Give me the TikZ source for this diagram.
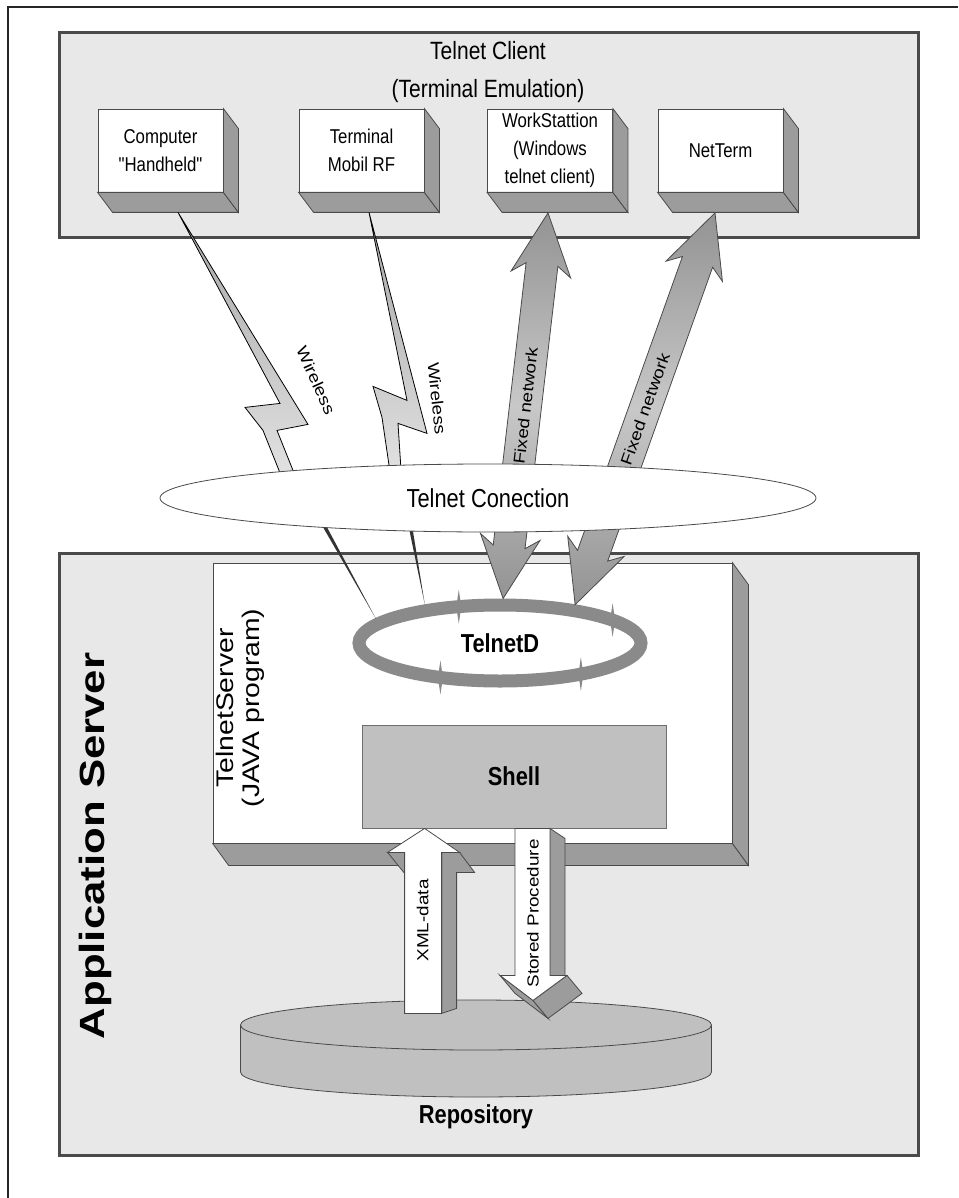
\documentclass[tikz,border=0pt]{standalone}
\usepackage{fontspec}
\setmainfont{Liberation Sans}
\newfontfamily\narrowfont{Liberation Sans}[FakeStretch=0.84]
\newfontfamily\tallfont{Liberation Sans}[FakeStretch=1.18]
\newfontfamily\widefont{Liberation Sans}[FakeStretch=1.25]
\usepackage{tikz}
\usetikzlibrary{calc}
\usetikzlibrary{shapes.geometric}
\definecolor{panelgray}{HTML}{E8E8E8}
\definecolor{edgegray}{HTML}{4A4A4A}
\definecolor{sidegray}{HTML}{9C9C9C}
\definecolor{shellgray}{HTML}{C0C0C0}
\definecolor{ringgray}{HTML}{8A8A8A}
\definecolor{arrowdark}{HTML}{939393}
\definecolor{arrowlight}{HTML}{C8C8C8}
\definecolor{boltdark}{HTML}{A6A6A6}
\definecolor{boltlight}{HTML}{E4E4E4}
\tikzset{
  panel/.style={draw=edgegray, line width=1.5pt, fill=panelgray, minimum width=429.5pt, inner sep=0},
  clientbox/.style={draw=edgegray, fill=white, minimum width=62.5pt, minimum height=41.5pt,
    inner sep=0, align=center, font=\narrowfont\fontsize{10}{14}\selectfont},
  sideface/.style={fill=sidegray, draw=edgegray, line width=0.4pt},
  bolt/.style={draw=black, line width=0.4pt, top color=boltdark, bottom color=boltlight},
  netarrow/.style={draw=edgegray, line width=0.4pt, top color=arrowdark, bottom color=arrowdark, middle color=arrowlight},
  smalllabel/.style={font=\tallfont\fontsize{8}{9}\selectfont, inner sep=0},
  boldlabel/.style={font=\narrowfont\bfseries\fontsize{13}{15}\selectfont, inner sep=0}
}
% double headed block arrow from #1 (top tip) to #2 (bottom tip)
\newcommand{\fixednet}[2]{%
  \draw[netarrow] (#1)
    -- ($(#1)!31pt!(#2)!15pt!90:(#2)$) -- ($(#1)!26pt!(#2)!8pt!90:(#2)$)
    -- ($(#2)!26pt!(#1)!8pt!-90:(#1)$) -- ($(#2)!31pt!(#1)!15pt!-90:(#1)$)
    -- (#2)
    -- ($(#2)!31pt!(#1)!15pt!90:(#1)$) -- ($(#2)!26pt!(#1)!8pt!90:(#1)$)
    -- ($(#1)!26pt!(#2)!8pt!-90:(#2)$) -- ($(#1)!31pt!(#2)!15pt!-90:(#2)$)
    -- cycle;}

\begin{document}
\begin{tikzpicture}[x=0.5pt,y=-0.5pt]
\useasboundingbox (0,0) rectangle (958,1198);
\fill[white] (0,0) rectangle (958,1198);
\draw[line width=1pt, black!85] (8,1198) -- (8,7) -- (958,7);

% telnet client side
\node[panel, minimum height=102.5pt] (clientpanel) at (488.5,135.5) {};
\node[align=center, font=\narrowfont\fontsize{12.5}{19}\selectfont] (clienttitle) at (488,72)
  {Telnet Client\\(Terminal Emulation)};
\foreach \nm/\cx/\txt in {handheld/160.5/{Computer\\"Handheld"}, mobilrf/361.5/{Terminal\\Mobil RF},
    workst/550/{WorkStattion\\(Windows\\telnet client)}, netterm/720.5/{NetTerm}} {
  \node[clientbox] (\nm) at (\cx,150.5) {\txt};
  \draw[sideface] (\nm.south west) -- (\nm.south east) -- ++(15,20) -- ($(\nm.south west)+(15,20)$) -- cycle;
  \draw[sideface] (\nm.north east) -- ++(15,20) -- ($(\nm.south east)+(15,20)$) -- (\nm.south east) -- cycle;
}

% application server side
\node[panel, minimum height=301pt] (apppanel) at (488.5,854) {};
\node[rotate=90, font=\widefont\bfseries\fontsize{17.5}{20}\selectfont] (appserver) at (95,846) {Application Server};
\node[draw=edgegray, fill=white, minimum width=259.5pt, minimum height=140pt, inner sep=0] (tserver) at (472.5,703) {};
\draw[sideface] (tserver.south west) -- (tserver.south east) -- ++(16,22) -- ($(tserver.south west)+(16,22)$) -- cycle;
\draw[sideface] (tserver.north east) -- ++(16,22) -- ($(tserver.south east)+(16,22)$) -- (tserver.south east) -- cycle;
\node[rotate=90, align=center, font=\tallfont\fontsize{12}{13}\selectfont] (tslabel) at (240,708)
  {TelnetServer\\(JAVA program)};

\node[ellipse, draw=ringgray, line width=6.5pt, minimum width=141pt, minimum height=38pt, inner sep=0,
  boldlabel] (telnetd) at (500,643) {TelnetD};
\foreach \t in {107,37,-115,-55}
  \fill[ringgray] ($(telnetd.center)+({141*cos(\t)},{-38*sin(\t)})$) ++(0,-17) -- ++(2.5,17) -- ++(-2.5,17) -- ++(-2.5,-17) -- cycle;

\node[draw=edgegray!80, fill=shellgray, minimum width=152pt, minimum height=51.5pt, boldlabel] (shell) at (514,776.5) {Shell};

% repository
\coordinate (repo) at (476,1025);
\fill[shellgray] ($(repo)+(-235.5,0)$) -- ++(0,47) arc[start angle=180, end angle=0, x radius=235.5, y radius=25] -- ++(0,-47) -- cycle;
\draw[edgegray] ($(repo)+(-235.5,0)$) -- ++(0,47) arc[start angle=180, end angle=0, x radius=235.5, y radius=25] -- ++(0,-47);
\draw[edgegray, fill=shellgray] (repo) ellipse[x radius=235.5, y radius=25];
\node[boldlabel, font=\narrowfont\bfseries\fontsize{13}{15}\selectfont] (repolabel) at ($(repo)+(0,92)$) {Repository};

% XML-data up, Stored Procedure down
\coordinate (xmltip) at ($(shell.south west)+(63,0)$);
\draw[sideface] (xmltip) ++(-37,24) -- ++(17,0) -- ++(0,21) -- cycle;
\draw[sideface] (xmltip) ++(17,24) -- ++(18,0) -- ++(15,20) -- ++(-18,0) -- ++(0,136) -- ++(-15,5) -- cycle;
\draw[fill=white, draw=edgegray, line width=0.4pt] (xmltip) -- ++(35,24) -- ++(-18,0) -- ++(0,161) -- ++(-37,0) -- ++(0,-161) -- ++(-17,0) -- cycle;
\node[smalllabel, rotate=90] (xmllabel) at ($(xmltip)+(-2,92)$) {XML-data};

\coordinate (sptop) at ($(shell.south)+(1,0)$);
\draw[sideface] (sptop) ++(35,0) -- ++(15,10) -- ++(0,137) -- ++(-15,0) -- cycle;
\draw[sideface] (sptop) ++(-15,147) -- ++(33,25) -- ++(15,18) -- ++(-33,-25) -- cycle;
\draw[sideface] (sptop) ++(18,172) -- ++(34,-25) -- ++(15,18) -- ++(-34,25) -- cycle;
\draw[fill=white, draw=edgegray, line width=0.4pt] (sptop) -- ++(35,0) -- ++(0,147) -- ++(17,0) -- ++(-34,25) -- ++(-33,-25) -- ++(15,0) -- cycle;
\node[smalllabel, rotate=90] (splabel) at ($(sptop)+(18,85)$) {Stored Procedure};

% wireless links
\coordinate (hhbolt) at ($(handheld.south)+(17.5,20)$);
\begin{scope}[shift={(hhbolt)}]
\draw[bolt] (0,0) -- (130,212) -- (99,218) -- (121,273) -- (107,273) -- (85,218) -- (67,195) -- (102,191) -- cycle;
\fill[black!80] (144,313) -- (148,313) -- (telnetd.169) -- cycle;
\node[smalllabel, rotate=-65.5] (hhlabel) at (138,168) {Wireless};
\end{scope}
\coordinate (mrbolt) at ($(mobilrf.south)+(7.5,20)$);
\begin{scope}[shift={(mrbolt)}]
\draw[bolt] (0,0) -- (58,221) -- (29,211) -- (33,273) -- (23,273) -- (13,205) -- (4,174) -- (38,188) -- cycle;
\fill[black!80] (40,316) -- (43.5,316) -- (telnetd.153) -- cycle;
\node[smalllabel, rotate=-84] (mrlabel) at (68,186) {Wireless};
\end{scope}

% fixed network links
\coordinate (wstip) at ($(workst.south)+(-2,20.5)$);
\coordinate (nttip) at ($(netterm.south)+(-5.5,20.5)$);
\fixednet{wstip}{telnetd.86}
\fixednet{nttip}{telnetd.27}
\path (wstip) -- node[midway, sloped, smalllabel] (wslabel) {Fixed network} (telnetd.86);
\path (nttip) -- node[midway, sloped, smalllabel] (ntlabel) {Fixed network} (telnetd.27);

\node[ellipse, draw=edgegray, fill=white, minimum width=328pt, minimum height=34pt, inner sep=0,
  font=\narrowfont\fontsize{13}{15}\selectfont] (conn) at (488,498) {Telnet Conection};
\end{tikzpicture}
\end{document}
